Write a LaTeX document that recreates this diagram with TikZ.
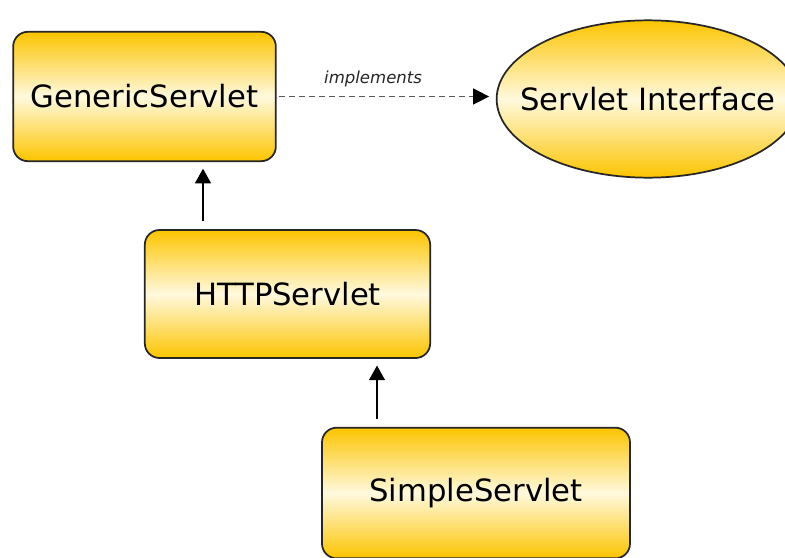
\documentclass[tikz,border=0pt]{standalone}
\usepackage{fontspec}
\setmainfont{DejaVu Sans}
\usetikzlibrary{positioning, shapes.geometric, arrows.meta}
\definecolor{servletgold}{RGB}{252,196,0}
\definecolor{servletlight}{RGB}{255,249,222}

\begin{document}
\begin{tikzpicture}[x=0.75pt, y=-0.75pt,
  classbox/.style={draw=black!85, line width=1.3pt, rounded corners=11pt,
    top color=servletgold, bottom color=servletgold, middle color=servletlight,
    inner sep=0pt, font=\fontsize{23}{27}\selectfont},
  ifacebox/.style={classbox, ellipse, rounded corners=0pt},
  extends/.style={line width=1pt, shorten <=6pt, shorten >=5pt,
    -{Triangle[length=11pt, width=12pt]}},
  realizes/.style={line width=1pt, dash pattern=on 4.5pt off 3pt,
    draw=black!65, shorten <=2pt, shorten >=5pt,
    -{Triangle[length=12pt, width=12pt, color=black, sep=0pt]}}]
  \useasboundingbox (0,0) rectangle (785,557);

  \node[classbox, minimum width=197pt, minimum height=97pt] (generic) at (144.5, 96.5) {GenericServlet};
  \node[ifacebox, minimum width=227pt, minimum height=118pt] (iface) at (648, 99) {\makebox[0pt]{Servlet Interface}};
  \node[classbox, minimum width=214pt, minimum height=96pt] (http) at (287.5, 294) {HTTPServlet};
  \node[classbox, minimum width=231pt, minimum height=98pt] (simple) at (476, 493) {SimpleServlet};

  \draw[realizes] (generic.east) -- node[pos=0.44, above=3pt, font=\itshape\fontsize{12.4}{14}\selectfont, text=black!85] {implements} (iface.west |- generic.east);
  \draw[extends] (http.north -| 203,0) -- (generic.south -| 203,0);
  \draw[extends] (simple.north -| 377,0) -- (http.south -| 377,0);
\end{tikzpicture}
\end{document}
